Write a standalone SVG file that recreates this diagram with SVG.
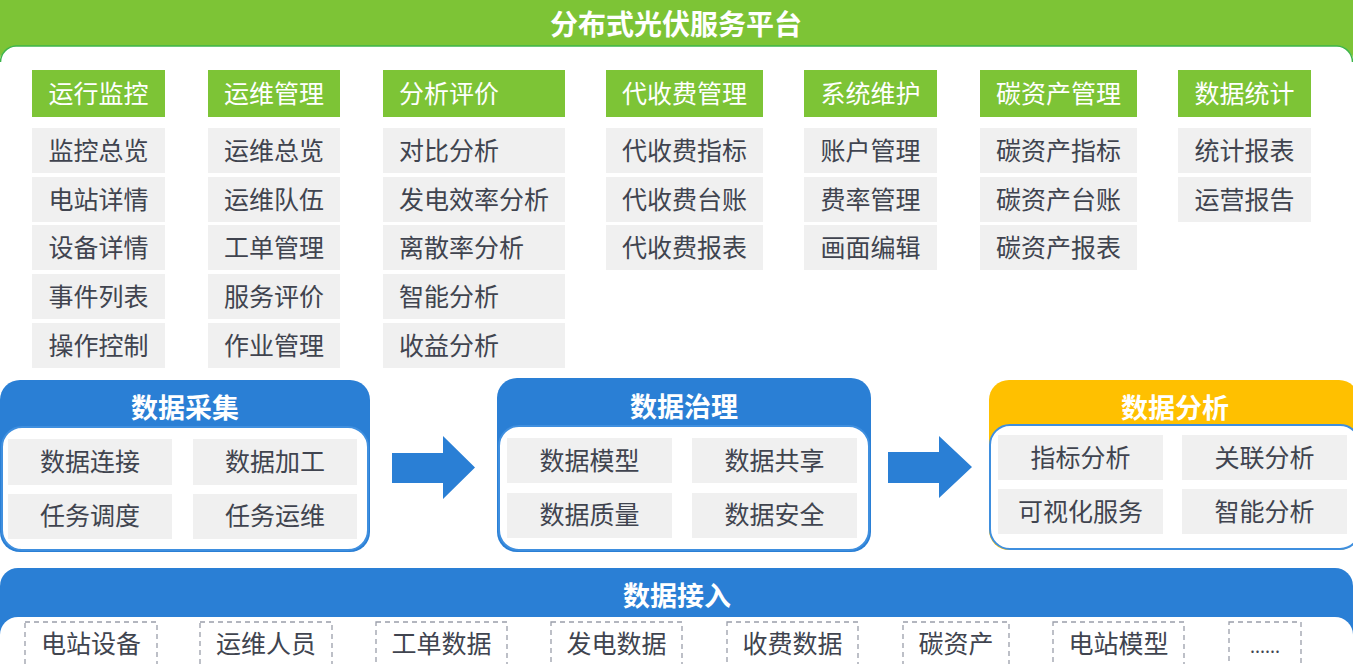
<svg xmlns="http://www.w3.org/2000/svg" width="1353" height="664" viewBox="0 0 1353 664">
<defs>
<style>
text{font-family:"Noto Sans CJK SC","Noto Sans",sans-serif;text-anchor:middle;dominant-baseline:central}
.hd{fill:#7dc436}
.hdt{fill:#ffffff;font-size:25px}
.it{fill:#f0f0f0}
.itt{fill:#40444f;font-size:25px}
.ttl{fill:#ffffff;font-size:27px;font-weight:bold}
.blue{fill:#2a7fd5}
.inner{fill:#ffffff;stroke:#3f8fdf;stroke-width:2}
.dash{fill:#ffffff;stroke:#9a9eaa;stroke-width:1.3;stroke-dasharray:5 4}
.arr{fill:#2a7fd5}
</style>
</defs>
<rect width="1353" height="664" fill="#ffffff"/>

<g id="platform">
<rect x="0" y="-20" width="1353" height="90" rx="16" fill="#7dc436"/>
<rect x="0" y="46" width="1353" height="330" rx="16" fill="#ffffff"/>
<path d="M0.5 62 A16 16 0 0 1 16 46 H1337 A16 16 0 0 1 1352.5 62" fill="none" stroke="#3db54a" stroke-width="1.5"/>
<text x="676" y="23" class="ttl" style="font-size:28px">分布式光伏服务平台</text>
</g>

<g id="col-yxjk">
<rect x="32" y="70" width="133" height="47" class="hd"/><text x="98.5" y="92" class="hdt">运行监控</text>
<rect x="32" y="128" width="133" height="45" class="it"/><text x="98.5" y="149" class="itt">监控总览</text>
<rect x="32" y="177" width="133" height="45" class="it"/><text x="98.5" y="198" class="itt">电站详情</text>
<rect x="32" y="225" width="133" height="45" class="it"/><text x="98.5" y="246" class="itt">设备详情</text>
<rect x="32" y="274" width="133" height="45" class="it"/><text x="98.5" y="295" class="itt">事件列表</text>
<rect x="32" y="323" width="133" height="45" class="it"/><text x="98.5" y="344" class="itt">操作控制</text>
</g>

<g id="col-ywgl">
<rect x="208" y="70" width="132" height="47" class="hd"/><text x="274" y="92" class="hdt">运维管理</text>
<rect x="208" y="128" width="132" height="45" class="it"/><text x="274" y="149" class="itt">运维总览</text>
<rect x="208" y="177" width="132" height="45" class="it"/><text x="274" y="198" class="itt">运维队伍</text>
<rect x="208" y="225" width="132" height="45" class="it"/><text x="274" y="246" class="itt">工单管理</text>
<rect x="208" y="274" width="132" height="45" class="it"/><text x="274" y="295" class="itt">服务评价</text>
<rect x="208" y="323" width="132" height="45" class="it"/><text x="274" y="344" class="itt">作业管理</text>
</g>

<g id="col-fxpj">
<rect x="383" y="70" width="182" height="47" class="hd"/><text x="449" y="92" class="hdt">分析评价</text>
<rect x="383" y="128" width="182" height="45" class="it"/><text x="449" y="149" class="itt">对比分析</text>
<rect x="383" y="177" width="182" height="45" class="it"/><text x="474" y="198" class="itt">发电效率分析</text>
<rect x="383" y="225" width="182" height="45" class="it"/><text x="461.5" y="246" class="itt">离散率分析</text>
<rect x="383" y="274" width="182" height="45" class="it"/><text x="449" y="295" class="itt">智能分析</text>
<rect x="383" y="323" width="182" height="45" class="it"/><text x="449" y="344" class="itt">收益分析</text>
</g>

<g id="col-dsf">
<rect x="606" y="70" width="157" height="47" class="hd"/><text x="684.5" y="92" class="hdt">代收费管理</text>
<rect x="606" y="128" width="157" height="45" class="it"/><text x="684.5" y="149" class="itt">代收费指标</text>
<rect x="606" y="177" width="157" height="45" class="it"/><text x="684.5" y="198" class="itt">代收费台账</text>
<rect x="606" y="225" width="157" height="45" class="it"/><text x="684.5" y="246" class="itt">代收费报表</text>
</g>

<g id="col-xtwh">
<rect x="804" y="70" width="133" height="47" class="hd"/><text x="870.5" y="92" class="hdt">系统维护</text>
<rect x="804" y="128" width="133" height="45" class="it"/><text x="870.5" y="149" class="itt">账户管理</text>
<rect x="804" y="177" width="133" height="45" class="it"/><text x="870.5" y="198" class="itt">费率管理</text>
<rect x="804" y="225" width="133" height="45" class="it"/><text x="870.5" y="246" class="itt">画面编辑</text>
</g>

<g id="col-tzc">
<rect x="980" y="70" width="157" height="47" class="hd"/><text x="1058.5" y="92" class="hdt">碳资产管理</text>
<rect x="980" y="128" width="157" height="45" class="it"/><text x="1058.5" y="149" class="itt">碳资产指标</text>
<rect x="980" y="177" width="157" height="45" class="it"/><text x="1058.5" y="198" class="itt">碳资产台账</text>
<rect x="980" y="225" width="157" height="45" class="it"/><text x="1058.5" y="246" class="itt">碳资产报表</text>
</g>

<g id="col-sjtj">
<rect x="1178" y="70" width="133" height="47" class="hd"/><text x="1244.5" y="92" class="hdt">数据统计</text>
<rect x="1178" y="128" width="133" height="45" class="it"/><text x="1244.5" y="149" class="itt">统计报表</text>
<rect x="1178" y="177" width="133" height="45" class="it"/><text x="1244.5" y="198" class="itt">运营报告</text>
</g>

<g id="sjcj">
<rect x="0" y="380" width="370" height="172" rx="20" class="blue"/>
<text x="185" y="406" class="ttl">数据采集</text>
<rect x="2" y="427" width="366" height="123" rx="20" class="inner"/>
<rect x="8" y="439" width="164" height="46" class="it"/><text x="90" y="460" class="itt">数据连接</text>
<rect x="193" y="439" width="164" height="46" class="it"/><text x="275" y="460" class="itt">数据加工</text>
<rect x="8" y="494" width="164" height="45" class="it"/><text x="90" y="514" class="itt">任务调度</text>
<rect x="193" y="494" width="164" height="45" class="it"/><text x="275" y="514" class="itt">任务运维</text>
</g>

<g id="sjzl">
<rect x="497" y="378" width="374" height="174" rx="20" class="blue"/>
<text x="684" y="405" class="ttl">数据治理</text>
<rect x="499" y="426" width="370" height="124" rx="20" class="inner"/>
<rect x="507" y="438" width="165" height="45" class="it"/><text x="589.5" y="459" class="itt">数据模型</text>
<rect x="692" y="438" width="165" height="45" class="it"/><text x="774.5" y="459" class="itt">数据共享</text>
<rect x="507" y="493" width="165" height="45" class="it"/><text x="589.5" y="513" class="itt">数据质量</text>
<rect x="692" y="493" width="165" height="45" class="it"/><text x="774.5" y="513" class="itt">数据安全</text>
</g>

<g id="sjfx">
<rect x="989" y="380" width="370" height="170" rx="20" fill="#ffc000"/>
<text x="1175" y="406" class="ttl">数据分析</text>
<rect x="990" y="425" width="370" height="124" rx="20" class="inner"/>
<rect x="998" y="435" width="165" height="45" class="it"/><text x="1080.5" y="456" class="itt">指标分析</text>
<rect x="1182" y="435" width="165" height="45" class="it"/><text x="1264.5" y="456" class="itt">关联分析</text>
<rect x="998" y="489" width="165" height="45" class="it"/><text x="1080.5" y="510" class="itt">可视化服务</text>
<rect x="1182" y="489" width="165" height="45" class="it"/><text x="1264.5" y="510" class="itt">智能分析</text>
</g>

<g id="connectors">
<path d="M392 453 H443 V436 L475 467.5 L443 499 V483 H392 Z" class="arr"/>
<path d="M888 452 H939 V436 L972 467 L939 498 V483 H888 Z" class="arr"/>
</g>

<g id="sjjr">
<rect x="0" y="568" width="1353" height="80" rx="18" class="blue"/>
<rect x="0" y="617" width="1353" height="70" rx="18" fill="#ffffff"/>
<text x="677" y="594" class="ttl">数据接入</text>
</g>

<g id="src">
<rect x="25" y="622" width="132" height="60" class="dash"/><text x="91" y="642" class="itt">电站设备</text>
<rect x="200" y="622" width="132" height="60" class="dash"/><text x="266" y="642" class="itt">运维人员</text>
<rect x="376" y="622" width="131" height="60" class="dash"/><text x="441.5" y="642" class="itt">工单数据</text>
<rect x="551" y="622" width="131" height="60" class="dash"/><text x="616.5" y="642" class="itt">发电数据</text>
<rect x="727" y="622" width="131" height="60" class="dash"/><text x="792.5" y="642" class="itt">收费数据</text>
<rect x="903" y="622" width="106" height="60" class="dash"/><text x="956" y="642" class="itt">碳资产</text>
<rect x="1053" y="622" width="131" height="60" class="dash"/><text x="1118.5" y="642" class="itt">电站模型</text>
<rect x="1229" y="622" width="72" height="60" class="dash"/><text x="1265" y="645" class="itt" style="font-size:18px">......</text>
</g>
</svg>
